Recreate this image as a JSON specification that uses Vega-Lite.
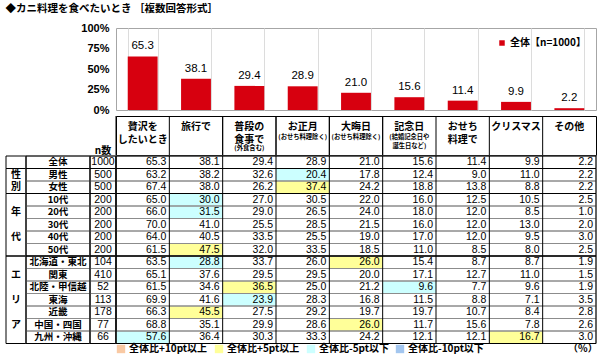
{
  "$schema": "https://vega.github.io/schema/vega-lite/v6.json",
  "padding": {"left": 5, "top": 4, "right": 5, "bottom": 0},
  "background": "white",
  "title": {"text": "◆カニ料理を食べたいとき ［複数回答形式］", "anchor": "start", "fontSize": 10.5, "fontWeight": "bold", "font": "Noto Sans CJK JP", "color": "black", "offset": 7},
  "config": {"font": "Noto Sans CJK JP", "view": {"stroke": null}, "legend": {"padding": 0}},
  "datasets": {
    "rows": [
      {"r": "全体", "n": 1000}, {"r": "男性", "n": 500}, {"r": "女性", "n": 500},
      {"r": "10代", "n": 200}, {"r": "20代", "n": 200}, {"r": "30代", "n": 200}, {"r": "40代", "n": 200}, {"r": "50代", "n": 200},
      {"r": "北海道・東北", "n": 104}, {"r": "関東", "n": 410}, {"r": "北陸・甲信越", "n": 52}, {"r": "東海", "n": 113},
      {"r": "近畿", "n": 178}, {"r": "中国・四国", "n": 77}, {"r": "九州・沖縄", "n": 66}
    ],
    "groups": [
      {"g": "全体", "a": "全体", "b": "全体"},
      {"g": "性別", "a": "男性", "b": "女性"},
      {"g": "年代", "a": "10代", "b": "50代"},
      {"g": "エリア", "a": "北海道・東北", "b": "九州・沖縄"}
    ],
    "gchars": [
      {"ch": "性", "r": "男性"}, {"ch": "別", "r": "女性"},
      {"ch": "年", "r": "20代"}, {"ch": "代", "r": "40代"},
      {"ch": "エ", "r": "関東"}, {"ch": "リ", "r": "東海"}, {"ch": "ア", "r": "中国・四国"}
    ],
    "heads": [
      {"c": "贅沢をしたいとき", "t": "贅沢を\nしたいとき", "k": "main", "line": 0},
      {"c": "旅行で", "t": "旅行で", "k": "main", "line": 0},
      {"c": "普段の食事で", "t": "普段の\n食事で", "k": "main", "line": 0},
      {"c": "普段の食事で", "t": "(外食含む)", "k": "sub", "line": 2},
      {"c": "お正月", "t": "お正月", "k": "main", "line": 0},
      {"c": "お正月", "t": "(おせち料理除く)", "k": "sub", "line": 1},
      {"c": "大晦日", "t": "大晦日", "k": "main", "line": 0},
      {"c": "大晦日", "t": "(おせち料理除く)", "k": "sub", "line": 1},
      {"c": "記念日", "t": "記念日", "k": "main", "line": 0},
      {"c": "記念日", "t": "(結婚記念日や\n誕生日など)", "k": "sub", "line": 1},
      {"c": "おせち料理で", "t": "おせち\n料理で", "k": "main", "line": 0},
      {"c": "クリスマス", "t": "クリスマス", "k": "main", "line": 0},
      {"c": "その他", "t": "その他", "k": "main", "line": 0}
    ],
    "cells": [
      {"r": "全体", "c": "贅沢をしたいとき", "v": 65.3}, {"r": "全体", "c": "旅行で", "v": 38.1}, {"r": "全体", "c": "普段の食事で", "v": 29.4}, {"r": "全体", "c": "お正月", "v": 28.9}, {"r": "全体", "c": "大晦日", "v": 21.0}, {"r": "全体", "c": "記念日", "v": 15.6}, {"r": "全体", "c": "おせち料理で", "v": 11.4}, {"r": "全体", "c": "クリスマス", "v": 9.9}, {"r": "全体", "c": "その他", "v": 2.2},
      {"r": "男性", "c": "贅沢をしたいとき", "v": 63.2}, {"r": "男性", "c": "旅行で", "v": 38.2}, {"r": "男性", "c": "普段の食事で", "v": 32.6}, {"r": "男性", "c": "お正月", "v": 20.4, "h": "全体比-5pt以下"}, {"r": "男性", "c": "大晦日", "v": 17.8}, {"r": "男性", "c": "記念日", "v": 12.4}, {"r": "男性", "c": "おせち料理で", "v": 9.0}, {"r": "男性", "c": "クリスマス", "v": 11.0}, {"r": "男性", "c": "その他", "v": 2.2},
      {"r": "女性", "c": "贅沢をしたいとき", "v": 67.4}, {"r": "女性", "c": "旅行で", "v": 38.0}, {"r": "女性", "c": "普段の食事で", "v": 26.2}, {"r": "女性", "c": "お正月", "v": 37.4, "h": "全体比+5pt以上"}, {"r": "女性", "c": "大晦日", "v": 24.2}, {"r": "女性", "c": "記念日", "v": 18.8}, {"r": "女性", "c": "おせち料理で", "v": 13.8}, {"r": "女性", "c": "クリスマス", "v": 8.8}, {"r": "女性", "c": "その他", "v": 2.2},
      {"r": "10代", "c": "贅沢をしたいとき", "v": 65.0}, {"r": "10代", "c": "旅行で", "v": 30.0, "h": "全体比-5pt以下"}, {"r": "10代", "c": "普段の食事で", "v": 27.0}, {"r": "10代", "c": "お正月", "v": 30.5}, {"r": "10代", "c": "大晦日", "v": 22.0}, {"r": "10代", "c": "記念日", "v": 16.0}, {"r": "10代", "c": "おせち料理で", "v": 12.5}, {"r": "10代", "c": "クリスマス", "v": 10.5}, {"r": "10代", "c": "その他", "v": 2.5},
      {"r": "20代", "c": "贅沢をしたいとき", "v": 66.0}, {"r": "20代", "c": "旅行で", "v": 31.5, "h": "全体比-5pt以下"}, {"r": "20代", "c": "普段の食事で", "v": 29.0}, {"r": "20代", "c": "お正月", "v": 26.5}, {"r": "20代", "c": "大晦日", "v": 24.0}, {"r": "20代", "c": "記念日", "v": 18.0}, {"r": "20代", "c": "おせち料理で", "v": 12.0}, {"r": "20代", "c": "クリスマス", "v": 8.5}, {"r": "20代", "c": "その他", "v": 1.0},
      {"r": "30代", "c": "贅沢をしたいとき", "v": 70.0}, {"r": "30代", "c": "旅行で", "v": 41.0}, {"r": "30代", "c": "普段の食事で", "v": 25.5}, {"r": "30代", "c": "お正月", "v": 28.5}, {"r": "30代", "c": "大晦日", "v": 21.5}, {"r": "30代", "c": "記念日", "v": 16.0}, {"r": "30代", "c": "おせち料理で", "v": 12.0}, {"r": "30代", "c": "クリスマス", "v": 13.0}, {"r": "30代", "c": "その他", "v": 2.0},
      {"r": "40代", "c": "贅沢をしたいとき", "v": 64.0}, {"r": "40代", "c": "旅行で", "v": 40.5}, {"r": "40代", "c": "普段の食事で", "v": 33.5}, {"r": "40代", "c": "お正月", "v": 25.5}, {"r": "40代", "c": "大晦日", "v": 19.0}, {"r": "40代", "c": "記念日", "v": 17.0}, {"r": "40代", "c": "おせち料理で", "v": 12.0}, {"r": "40代", "c": "クリスマス", "v": 9.5}, {"r": "40代", "c": "その他", "v": 3.0},
      {"r": "50代", "c": "贅沢をしたいとき", "v": 61.5}, {"r": "50代", "c": "旅行で", "v": 47.5, "h": "全体比+5pt以上"}, {"r": "50代", "c": "普段の食事で", "v": 32.0}, {"r": "50代", "c": "お正月", "v": 33.5}, {"r": "50代", "c": "大晦日", "v": 18.5}, {"r": "50代", "c": "記念日", "v": 11.0}, {"r": "50代", "c": "おせち料理で", "v": 8.5}, {"r": "50代", "c": "クリスマス", "v": 8.0}, {"r": "50代", "c": "その他", "v": 2.5},
      {"r": "北海道・東北", "c": "贅沢をしたいとき", "v": 63.5}, {"r": "北海道・東北", "c": "旅行で", "v": 28.8, "h": "全体比-5pt以下"}, {"r": "北海道・東北", "c": "普段の食事で", "v": 33.7}, {"r": "北海道・東北", "c": "お正月", "v": 26.0}, {"r": "北海道・東北", "c": "大晦日", "v": 26.0, "h": "全体比+5pt以上"}, {"r": "北海道・東北", "c": "記念日", "v": 15.4}, {"r": "北海道・東北", "c": "おせち料理で", "v": 8.7}, {"r": "北海道・東北", "c": "クリスマス", "v": 8.7}, {"r": "北海道・東北", "c": "その他", "v": 1.9},
      {"r": "関東", "c": "贅沢をしたいとき", "v": 65.1}, {"r": "関東", "c": "旅行で", "v": 37.6}, {"r": "関東", "c": "普段の食事で", "v": 29.5}, {"r": "関東", "c": "お正月", "v": 29.5}, {"r": "関東", "c": "大晦日", "v": 20.0}, {"r": "関東", "c": "記念日", "v": 17.1}, {"r": "関東", "c": "おせち料理で", "v": 12.7}, {"r": "関東", "c": "クリスマス", "v": 11.0}, {"r": "関東", "c": "その他", "v": 1.5},
      {"r": "北陸・甲信越", "c": "贅沢をしたいとき", "v": 61.5}, {"r": "北陸・甲信越", "c": "旅行で", "v": 34.6}, {"r": "北陸・甲信越", "c": "普段の食事で", "v": 36.5, "h": "全体比+5pt以上"}, {"r": "北陸・甲信越", "c": "お正月", "v": 25.0}, {"r": "北陸・甲信越", "c": "大晦日", "v": 21.2}, {"r": "北陸・甲信越", "c": "記念日", "v": 9.6, "h": "全体比-5pt以下"}, {"r": "北陸・甲信越", "c": "おせち料理で", "v": 7.7}, {"r": "北陸・甲信越", "c": "クリスマス", "v": 9.6}, {"r": "北陸・甲信越", "c": "その他", "v": 1.9},
      {"r": "東海", "c": "贅沢をしたいとき", "v": 69.9}, {"r": "東海", "c": "旅行で", "v": 41.6}, {"r": "東海", "c": "普段の食事で", "v": 23.9, "h": "全体比-5pt以下"}, {"r": "東海", "c": "お正月", "v": 28.3}, {"r": "東海", "c": "大晦日", "v": 16.8}, {"r": "東海", "c": "記念日", "v": 11.5}, {"r": "東海", "c": "おせち料理で", "v": 8.8}, {"r": "東海", "c": "クリスマス", "v": 7.1}, {"r": "東海", "c": "その他", "v": 3.5},
      {"r": "近畿", "c": "贅沢をしたいとき", "v": 66.3}, {"r": "近畿", "c": "旅行で", "v": 45.5, "h": "全体比+5pt以上"}, {"r": "近畿", "c": "普段の食事で", "v": 27.5}, {"r": "近畿", "c": "お正月", "v": 29.2}, {"r": "近畿", "c": "大晦日", "v": 19.7}, {"r": "近畿", "c": "記念日", "v": 19.7}, {"r": "近畿", "c": "おせち料理で", "v": 10.7}, {"r": "近畿", "c": "クリスマス", "v": 8.4}, {"r": "近畿", "c": "その他", "v": 2.8},
      {"r": "中国・四国", "c": "贅沢をしたいとき", "v": 68.8}, {"r": "中国・四国", "c": "旅行で", "v": 35.1}, {"r": "中国・四国", "c": "普段の食事で", "v": 29.9}, {"r": "中国・四国", "c": "お正月", "v": 28.6}, {"r": "中国・四国", "c": "大晦日", "v": 26.0, "h": "全体比+5pt以上"}, {"r": "中国・四国", "c": "記念日", "v": 11.7}, {"r": "中国・四国", "c": "おせち料理で", "v": 15.6}, {"r": "中国・四国", "c": "クリスマス", "v": 7.8}, {"r": "中国・四国", "c": "その他", "v": 2.6},
      {"r": "九州・沖縄", "c": "贅沢をしたいとき", "v": 57.6, "h": "全体比-5pt以下"}, {"r": "九州・沖縄", "c": "旅行で", "v": 36.4}, {"r": "九州・沖縄", "c": "普段の食事で", "v": 30.3}, {"r": "九州・沖縄", "c": "お正月", "v": 33.3}, {"r": "九州・沖縄", "c": "大晦日", "v": 24.2}, {"r": "九州・沖縄", "c": "記念日", "v": 12.1}, {"r": "九州・沖縄", "c": "おせち料理で", "v": 12.1}, {"r": "九州・沖縄", "c": "クリスマス", "v": 16.7, "h": "全体比+5pt以上"}, {"r": "九州・沖縄", "c": "その他", "v": 3.0}
    ]
  },
  "resolve": {"scale": {"color": "independent", "fill": "independent"}, "legend": {"color": "independent", "fill": "independent"}},
  "spacing": -2,
  "vconcat": [
    {
      "spacing": 0,
      "bounds": "flush",
      "resolve": {"scale": {"color": "independent", "fill": "independent"}, "legend": {"color": "independent", "fill": "independent"}},
      "hconcat": [
        {"width": 110, "height": 82, "data": {"values": []}, "mark": "point"},
        {
          "width": 480,
          "height": 82,
          "view": {"stroke": "#a6a6a6"},
          "data": {"name": "cells"},
          "transform": [{"filter": "datum.r === '全体'"}],
          "encoding": {
            "x": {"field": "c", "type": "nominal", "scale": {"domain": ["贅沢をしたいとき", "旅行で", "普段の食事で", "お正月", "大晦日", "記念日", "おせち料理で", "クリスマス", "その他"], "paddingInner": 0.44, "paddingOuter": 0.22},
                  "axis": {"labels": false, "ticks": false, "domain": false, "title": null, "grid": true, "tickBand": "extent", "gridColor": "#dcdcdc"}},
            "y": {"field": "v", "type": "quantitative", "scale": {"domain": [0, 100]},
                  "axis": {"values": [0, 25, 50, 75, 100], "labelExpr": "datum.value + '%'", "grid": false, "ticks": false, "domain": false, "title": null, "labelFont": "Liberation Sans", "labelFontSize": 11, "labelFontWeight": "bold", "labelColor": "black", "labelPadding": 7}}
          },
          "layer": [
            {"mark": {"type": "bar"},
             "encoding": {"color": {"datum": "全体【n=1000】", "type": "nominal", "scale": {"range": ["#d7000f"]},
                                    "legend": {"orient": "top-right", "offset": 10, "title": null, "symbolType": "square", "symbolSize": 30, "symbolStrokeWidth": 0, "labelFontSize": 10, "labelFontWeight": "bold", "labelFont": "Noto Sans CJK JP", "labelColor": "black", "labelOffset": 3}}}},
            {"mark": {"type": "text", "baseline": "bottom", "dy": -5, "font": "Liberation Sans", "fontSize": 11.5, "color": "black"},
             "encoding": {"text": {"field": "v", "type": "quantitative", "format": ".1f"}}}
          ]
        }
      ]
    },
    {
      "spacing": -1,
      "resolve": {"scale": {"color": "independent", "fill": "independent"}, "legend": {"color": "independent", "fill": "independent"}},
      "vconcat": [
        {
          "spacing": 0,
          "bounds": "flush",
          "hconcat": [
            {"width": 84, "height": 39, "data": {"values": []}, "mark": "point"},
            {"width": 26, "height": 39, "data": {"values": [{"t": "n数", "line": 2}]},
             "mark": {"type": "text", "baseline": "top", "fontSize": 10, "fontWeight": "bold", "color": "black"},
             "encoding": {"text": {"field": "t"}, "y": {"field": "line", "type": "quantitative", "scale": {"domain": [-0.22, 2.68], "reverse": true}, "axis": null}}},
            {
              "width": 480,
              "height": 39,
              "view": {"stroke": "black"},
              "data": {"name": "heads"},
              "encoding": {"x": {"field": "c", "type": "nominal", "scale": {"domain": ["贅沢をしたいとき", "旅行で", "普段の食事で", "お正月", "大晦日", "記念日", "おせち料理で", "クリスマス", "その他"], "paddingInner": 0, "paddingOuter": 0}, "axis": null}},
              "layer": [
                {"mark": {"type": "rule", "stroke": "black"}, "encoding": {"x": {"field": "c", "type": "nominal", "bandPosition": 0}}},
                {"transform": [{"filter": "datum.k === 'main'"}],
                 "mark": {"type": "text", "baseline": "top", "lineBreak": "\n", "lineHeight": 13.5, "fontSize": 10, "fontWeight": "bold", "color": "black"},
                 "encoding": {"text": {"field": "t"}, "y": {"field": "line", "type": "quantitative", "scale": {"domain": [-0.22, 2.68], "reverse": true}, "axis": null}}},
                {"transform": [{"filter": "datum.k === 'sub'"}],
                 "mark": {"type": "text", "baseline": "top", "lineBreak": "\n", "lineHeight": 9, "fontSize": 6.3, "fontWeight": "bold", "color": "black", "dy": 1},
                 "encoding": {"text": {"field": "t"}, "y": {"field": "line", "type": "quantitative", "axis": null}}}
              ]
            }
          ]
        },
        {
          "spacing": 0,
          "bounds": "flush",
          "resolve": {"scale": {"color": "independent", "fill": "independent"}, "legend": {"color": "independent", "fill": "independent"}},
          "hconcat": [
            {
              "width": 20,
              "height": 187.5,
              "layer": [
                {"data": {"name": "groups"},
                 "mark": {"type": "rect", "fill": "transparent", "stroke": "black", "strokeWidth": 1},
                 "encoding": {"y": {"field": "a", "type": "nominal", "bandPosition": 0, "scale": {"domain": ["全体", "男性", "女性", "10代", "20代", "30代", "40代", "50代", "北海道・東北", "関東", "北陸・甲信越", "東海", "近畿", "中国・四国", "九州・沖縄"], "paddingInner": 0, "paddingOuter": 0}, "axis": null},
                              "y2": {"field": "b", "bandPosition": 1}}},
                {"data": {"name": "gchars"},
                 "mark": {"type": "text", "fontSize": 10, "fontWeight": "bold", "color": "black"},
                 "encoding": {"text": {"field": "ch"}, "y": {"field": "r", "type": "nominal", "axis": null}}}
              ]
            },
            {
              "width": 64,
              "height": 187.5,
              "layer": [
                {"data": {"name": "rows"},
                 "mark": {"type": "rect", "fill": "transparent", "stroke": "#8c8c8c", "strokeWidth": 1},
                 "encoding": {"y": {"field": "r", "type": "nominal", "scale": {"domain": ["全体", "男性", "女性", "10代", "20代", "30代", "40代", "50代", "北海道・東北", "関東", "北陸・甲信越", "東海", "近畿", "中国・四国", "九州・沖縄"], "paddingInner": 0, "paddingOuter": 0}, "axis": null}}},
                {"data": {"name": "groups"},
                 "mark": {"type": "rect", "fill": "transparent", "stroke": "black", "strokeWidth": 1},
                 "encoding": {"y": {"field": "a", "type": "nominal", "bandPosition": 0, "axis": null}, "y2": {"field": "b", "bandPosition": 1}}},
                {"data": {"name": "rows"},
                 "mark": {"type": "text", "fontSize": 9.5, "fontWeight": "bold", "color": "black"},
                 "encoding": {"text": {"field": "r"}, "y": {"field": "r", "type": "nominal", "axis": null}}}
              ]
            },
            {
              "width": 26,
              "height": 187.5,
              "layer": [
                {"data": {"name": "rows"},
                 "mark": {"type": "rect", "fill": "transparent", "stroke": "#8c8c8c", "strokeWidth": 1},
                 "encoding": {"y": {"field": "r", "type": "nominal", "scale": {"domain": ["全体", "男性", "女性", "10代", "20代", "30代", "40代", "50代", "北海道・東北", "関東", "北陸・甲信越", "東海", "近畿", "中国・四国", "九州・沖縄"], "paddingInner": 0, "paddingOuter": 0}, "axis": null}}},
                {"data": {"name": "groups"},
                 "mark": {"type": "rect", "fill": "transparent", "stroke": "black", "strokeWidth": 1},
                 "encoding": {"y": {"field": "a", "type": "nominal", "bandPosition": 0, "axis": null}, "y2": {"field": "b", "bandPosition": 1}}},
                {"data": {"name": "rows"},
                 "mark": {"type": "text", "font": "Liberation Sans", "fontSize": 10.5, "color": "black"},
                 "encoding": {"text": {"field": "n"}, "y": {"field": "r", "type": "nominal", "axis": null}}}
              ]
            },
            {
              "width": 480,
              "height": 187.5,
              "layer": [
                {"data": {"name": "cells"},
                 "transform": [{"filter": "datum.h != null"}],
                 "mark": {"type": "rect"},
                 "encoding": {
                   "x": {"field": "c", "type": "nominal", "scale": {"domain": ["贅沢をしたいとき", "旅行で", "普段の食事で", "お正月", "大晦日", "記念日", "おせち料理で", "クリスマス", "その他"], "paddingInner": 0, "paddingOuter": 0}, "axis": null},
                   "y": {"field": "r", "type": "nominal", "scale": {"domain": ["全体", "男性", "女性", "10代", "20代", "30代", "40代", "50代", "北海道・東北", "関東", "北陸・甲信越", "東海", "近畿", "中国・四国", "九州・沖縄"], "paddingInner": 0, "paddingOuter": 0}, "axis": null},
                   "fill": {"field": "h", "type": "nominal",
                            "scale": {"domain": ["全体比+10pt以上", "全体比+5pt以上", "全体比-5pt以下", "全体比-10pt以下"], "range": ["#f9c9a3", "#ffff99", "#ccffff", "#a3c6ef"]},
                            "legend": {"orient": "bottom", "direction": "horizontal", "title": "（%）", "titleOrient": "right", "titlePadding": 84, "titleFontSize": 10, "titleFontWeight": "bold", "titleFont": "Noto Sans CJK JP", "titleColor": "black",
                                       "symbolType": "square", "symbolSize": 70, "symbolStrokeWidth": 0, "labelFontSize": 10, "labelFontWeight": "bold", "labelFont": "Noto Sans CJK JP", "labelColor": "black", "columnPadding": 6, "labelOffset": 3, "offset": 0}}
                 }},
                {"data": {"name": "rows"},
                 "mark": {"type": "rect", "fill": "transparent", "stroke": "#8c8c8c", "strokeWidth": 1},
                 "encoding": {"y": {"field": "r", "type": "nominal", "axis": null}}},
                {"data": {"name": "groups"},
                 "mark": {"type": "rect", "fill": "transparent", "stroke": "black", "strokeWidth": 1},
                 "encoding": {"y": {"field": "a", "type": "nominal", "bandPosition": 0, "axis": null}, "y2": {"field": "b", "bandPosition": 1}}},
                {"data": {"name": "cells"},
                 "transform": [{"filter": "datum.r === '全体'"}],
                 "mark": {"type": "rule", "stroke": "black", "strokeWidth": 1},
                 "encoding": {"x": {"field": "c", "type": "nominal", "bandPosition": 0, "axis": null}}},
                {"data": {"name": "cells"},
                 "mark": {"type": "text", "align": "right", "dx": -3, "font": "Liberation Sans", "fontSize": 10.5, "color": "black"},
                 "encoding": {"x": {"field": "c", "type": "nominal", "bandPosition": 1, "axis": null},
                              "y": {"field": "r", "type": "nominal", "axis": null},
                              "text": {"field": "v", "type": "quantitative", "format": ".1f"}}}
              ]
            }
          ]
        }
      ]
    }
  ]
}
